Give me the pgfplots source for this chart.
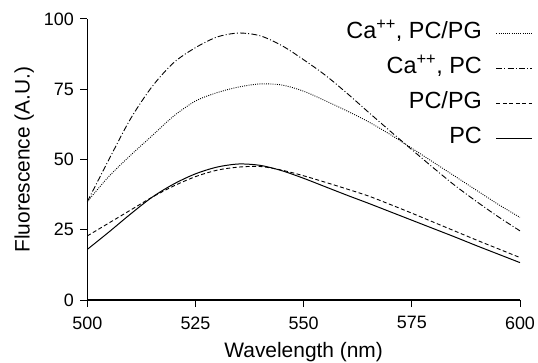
\documentclass[border=0pt]{standalone}
\usepackage{pgfplots}
\pgfplotsset{compat=1.18}
\usepackage{fontspec}
\setmainfont{Liberation Sans}
\begin{document}
\begin{tikzpicture}
\useasboundingbox (0,0) rectangle (538bp,363bp);
\begin{axis}[
  at={(87.3bp,63bp)}, anchor=south west,
  scale only axis, width=432.7bp, height=281bp,
  xmin=500, xmax=600, ymin=0, ymax=100,
  axis lines=left, axis line style={-, line width=1.1pt},
  xtick={500,525,550,575,600}, ytick={0,25,50,75,100},
  tick align=outside, major tick length=7bp,
  tick style={line width=1pt, black},
  /pgf/number format/assume math mode=true,
  ticklabel style={font=\fontsize{18}{20}\selectfont},
  xticklabel style={yshift=-6bp},
  yticklabel style={xshift=-3bp},
  label style={font=\fontsize{21}{24}\selectfont},
  xlabel={Wavelength (nm)}, ylabel={Fluorescence (A.U.)},
  xlabel style={yshift=-6bp},
  ylabel style={yshift=3bp},
  legend plot pos=right,
  legend cell align=right,
  legend image code/.code={\draw[#1] (0bp,0bp) -- (36bp,0bp);},
  legend style={at={(axis description cs:1.037,0.995)}, anchor=north east, draw=none, fill=none,
    row sep=14bp, column sep=14bp,
    nodes={font=\fontsize{23.5}{26}\selectfont, text height=16bp, text depth=5bp, inner sep=0pt}},
  clip=false,
]
\addplot[black, line width=0.9pt, smooth, dash pattern=on 0.9pt off 1.3pt] coordinates {
(500,35) (505,44) (510,51.5) (515,58.5) (520,65.5) (525,70.8) (530,73.8) (535,75.8) (540,76.9) (545,76.5) (550,74.3) (555,70.9) (560,67.3) (565,63.4) (570,58.9) (575,54) (580,49) (585,44) (590,39) (595,34) (600,29.4)};
\addlegendentry{Ca\textsuperscript{++}, PC/PG}
\addplot[black, line width=0.9pt, smooth, dash pattern=on 6pt off 2.2pt on 1pt off 2.2pt] coordinates {
(500,35) (505,50) (510,64.5) (515,76) (520,84.5) (525,89.8) (530,93.6) (535,95) (540,94) (545,90.5) (550,85.5) (555,80) (560,73.6) (565,66.8) (570,60.1) (575,53.5) (580,47) (585,40.7) (590,35) (595,29.6) (600,24.6)};
\addlegendentry{Ca\textsuperscript{++}, PC}
\addplot[black, line width=0.9pt, smooth, dash pattern=on 4pt off 2.5pt] coordinates {
(500,22.8) (505,27.4) (510,32) (515,36.6) (520,40.6) (525,43.9) (530,46.2) (535,47.3) (540,47.5) (545,46.2) (550,44.2) (555,41.9) (560,39.5) (565,37) (570,34) (575,30.9) (580,27.7) (585,24.5) (590,21.3) (595,18.2) (600,15.1)};
\addlegendentry{PC/PG}
\addplot[black, line width=1pt, smooth] coordinates {
(500,18) (505,24.2) (510,30.6) (515,36.6) (520,41.3) (525,44.9) (530,47.3) (535,48.4) (540,47.9) (545,46) (550,43.3) (555,40.3) (560,37.3) (565,34.4) (570,31.4) (575,28.4) (580,25.4) (585,22.4) (590,19.3) (595,16.3) (600,13.3)};
\addlegendentry{PC}
\end{axis}
\end{tikzpicture}
\end{document}
